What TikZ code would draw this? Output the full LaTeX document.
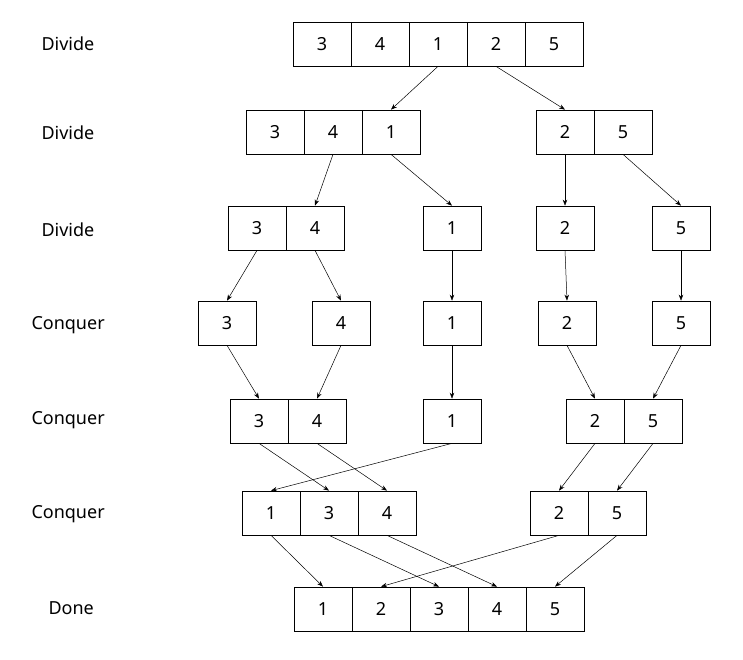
\documentclass[tikz,border=0pt]{standalone}
\usepackage{fontspec}
\setmainfont{Noto Sans}
\usetikzlibrary{arrows.meta}
\begin{document}
\begin{tikzpicture}[x=1pt,y=-1pt,
 cell/.style={draw,line width=0.7pt,minimum width=58pt,minimum height=44pt,inner sep=0pt,font=\fontsize{18}{21}\selectfont},
 lab/.style={anchor=west,font=\fontsize{18}{21}\selectfont},
 arr/.style={-{Stealth[length=6pt,width=4.5pt]},line width=0.5pt}]
\useasboundingbox (0,0) rectangle (743,660);
% labels
\node[lab] (l1) at (38,44) {Divide};
\node[lab] (l2) at (38,133) {Divide};
\node[lab] (l3) at (38,230) {Divide};
\node[lab] (l4) at (28,325) {Conquer};
\node[lab] (l5) at (28,420) {Conquer};
\node[lab] (l6) at (28,514) {Conquer};
\node[lab] (l7) at (45,608) {Done};
% row 1
\node[cell] (a1) at (322,44) {3};
\node[cell] (a2) at (380,44) {4};
\node[cell] (a3) at (438,44) {1};
\node[cell] (a4) at (496,44) {2};
\node[cell] (a5) at (554,44) {5};
% row 2
\node[cell] (b1) at (275,132) {3};
\node[cell] (b2) at (333,132) {4};
\node[cell] (b3) at (391,132) {1};
\node[cell] (b4) at (565,132) {2};
\node[cell] (b5) at (623,132) {5};
% row 3
\node[cell] (c1) at (257,228) {3};
\node[cell] (c2) at (315,228) {4};
\node[cell] (c3) at (452,228) {1};
\node[cell] (c4) at (565,228) {2};
\node[cell] (c5) at (681,228) {5};
% row 4
\node[cell] (d1) at (227,323) {3};
\node[cell] (d2) at (341,323) {4};
\node[cell] (d3) at (452,323) {1};
\node[cell] (d4) at (567,323) {2};
\node[cell] (d5) at (681,323) {5};
% row 5
\node[cell] (e1) at (259,421) {3};
\node[cell] (e2) at (317,421) {4};
\node[cell] (e3) at (452,421) {1};
\node[cell] (e4) at (595,421) {2};
\node[cell] (e5) at (653,421) {5};
% row 6
\node[cell] (f1) at (271,513) {1};
\node[cell] (f2) at (329,513) {3};
\node[cell] (f3) at (387,513) {4};
\node[cell] (f4) at (559,513) {2};
\node[cell] (f5) at (617,513) {5};
% row 7
\node[cell] (g1) at (323,609) {1};
\node[cell] (g2) at (381,609) {2};
\node[cell] (g3) at (439,609) {3};
\node[cell] (g4) at (497,609) {4};
\node[cell] (g5) at (555,609) {5};
% arrows
\draw[arr] (a3.south) -- (b3.north);
\draw[arr] (a4.south) -- (b4.north);
\draw[arr] (b2.south) -- (c2.north);
\draw[arr] (b3.south) -- (c3.north);
\draw[arr] (b4.south) -- (c4.north);
\draw[arr] (b5.south) -- (c5.north);
\draw[arr] (c1.south) -- (d1.north);
\draw[arr] (c2.south) -- (d2.north);
\draw[arr] (c3.south) -- (d3.north);
\draw[arr] (c4.south) -- (d4.north);
\draw[arr] (c5.south) -- (d5.north);
\draw[arr] (d1.south) -- (e1.north);
\draw[arr] (d2.south) -- (e2.north);
\draw[arr] (d3.south) -- (e3.north);
\draw[arr] (d4.south) -- (e4.north);
\draw[arr] (d5.south) -- (e5.north);
\draw[arr] (e1.south) -- (f2.north);
\draw[arr] (e2.south) -- (f3.north);
\draw[arr] (e3.south) -- (f1.north);
\draw[arr] (e4.south) -- (f4.north);
\draw[arr] (e5.south) -- (f5.north);
\draw[arr] (f1.south) -- (g1.north);
\draw[arr] (f2.south) -- (g3.north);
\draw[arr] (f3.south) -- (g4.north);
\draw[arr] (f4.south) -- (g2.north);
\draw[arr] (f5.south) -- (g5.north);
\end{tikzpicture}
\end{document}
